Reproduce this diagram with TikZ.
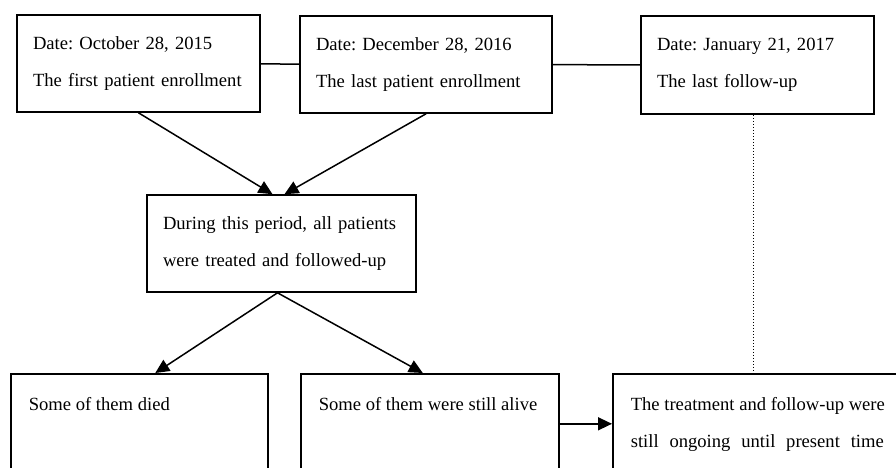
\documentclass[tikz,border=0pt]{standalone}
\usepackage{fontspec}
\setmainfont{Liberation Serif}
\usepackage{tikz}
\usetikzlibrary{arrows.meta}

\begin{document}
\begin{tikzpicture}[x=1pt, y=-1pt, thick]

  % Node styles
  \tikzstyle{tbox}=[rectangle, draw, line width=1.6pt, inner xsep=16pt, align=left, font=\fontsize{18.6}{37}\selectfont\frenchspacing]
  \tikzstyle{bbox}=[rectangle, draw, line width=1.6pt, inner xsep=18pt, inner ysep=0pt, anchor=north west, font=\fontsize{18.6}{37}\selectfont\frenchspacing]

  \tikzstyle{T_link}=[line width=1.5pt]
  \tikzstyle{T_arrow}=[line width=1.5pt, -{Triangle[length=14pt, width=13pt]}]
  \tikzstyle{F_link}=[line width=1.6pt, dash pattern=on 1.5pt off 1.5pt]

  \clip (0,0) rectangle (896,467);

  % Nodes
  \node[tbox, text width=211pt, minimum height=97pt] (n_first) at (138.5,63.5) {Date: October 28, 2015\\The first patient enrollment};
  \node[tbox, text width=220pt, minimum height=97pt] (n_last) at (426,64.5) {Date: December 28, 2016\\The last patient enrollment};
  \node[tbox, text width=201pt, minimum height=98pt] (n_fu) at (757.5,65) {Date: January 21, 2017\\The last follow-up};

  \node[tbox, text width=237pt, minimum height=97pt] (n_period) at (281.5,243.5) {During this period, all patients\\were treated and followed-up};

  \node[bbox] (n_died) at (10,373) {\parbox[c][100pt][t]{221pt}{\rule{0pt}{37pt}Some of them died}};
  \node[bbox] (n_alive) at (300,373) {\parbox[c][100pt][t]{222pt}{\rule{0pt}{37pt}Some of them were still alive}};
  \node[bbox] (n_ongoing) at (612,373) {\parbox[c][100pt][t]{280pt}{\rule{0pt}{37pt}The treatment and follow-up were\\\makebox[253pt][s]{still ongoing until present time}}};

  %  Time line
  \draw[T_link] (n_first) -- (n_last);
  \draw[T_link] (n_last) -- (n_fu);

  % Arrows
  \draw[T_arrow] (n_first.south) -- ([xshift=-9pt]n_period.north);
  \draw[T_arrow] (n_last.south) -- ([xshift=3pt]n_period.north);
  \draw[T_arrow] ([xshift=-4pt]n_period.south) -- ([xshift=16pt]n_died.north);
  \draw[T_arrow] ([xshift=-4pt]n_period.south) -- ([xshift=-7pt]n_alive.north);
  \draw[T_arrow] (n_alive) -- (n_ongoing);

  % Follow-up line
  \draw[F_link] ([xshift=-4pt]n_fu.south) -- ([xshift=-4pt]n_fu.south |- n_ongoing.north);

\end{tikzpicture}
\end{document}
